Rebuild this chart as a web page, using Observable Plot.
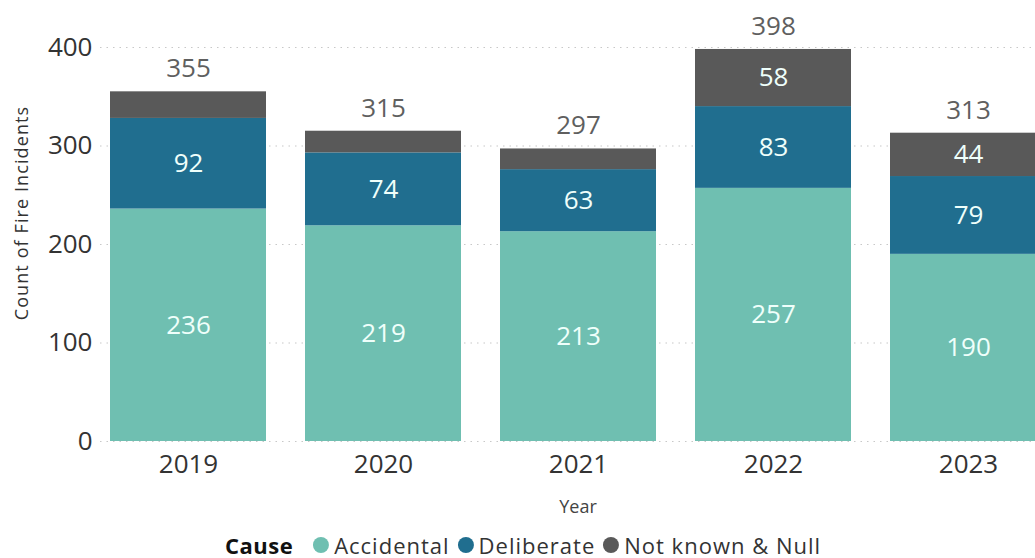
<!DOCTYPE html>
<html>
<head>
<meta charset="utf-8">
<script src="https://cdn.jsdelivr.net/npm/d3@7"></script>
<script src="https://cdn.jsdelivr.net/npm/@observablehq/plot@0.6"></script>
<style>
  html, body { margin: 0; padding: 0; background: #fff; overflow: hidden; }
  body { font-family: "Segoe UI", "Open Sans", "Noto Sans", sans-serif; }
  #wrap { position: relative; width: 1035px; height: 558px; }
  #ylab { position: absolute; left: 21px; top: 213px; transform: translate(-50%, -50%) rotate(-90deg);
          font-size: 18px; letter-spacing: 1.1px; color: #333; white-space: nowrap; }
  #xlab { position: absolute; left: 578px; top: 506px; transform: translate(-50%, -50%);
          font-size: 18px; color: #444; }
  #legend { position: absolute; left: 523px; top: 545px; transform: translate(-50%, -50%);
            font-size: 22px; line-height: 22px; letter-spacing: 1px; color: #333; white-space: nowrap;
            display: flex; align-items: center; }
  #legend b { margin-right: 12px; color: #111; letter-spacing: 0.5px; }
  #legend .dot { display: inline-block; width: 16px; height: 16px; border-radius: 50%; margin: 0 5px 0 8px; }
</style>
</head>
<body>
<div id="wrap">
  <div id="chart"></div>
  <div id="ylab">Count of Fire Incidents</div>
  <div id="xlab">Year</div>
  <div id="legend"></div>
</div>
<script>
const years = ["2019", "2020", "2021", "2022", "2023"];
const causes = ["Accidental", "Deliberate", "Not known & Null"];
const accidental = [236, 219, 213, 257, 190];
const deliberate = [92, 74, 63, 83, 79];
const notKnown = [27, 22, 21, 58, 44];
const totals = [355, 315, 297, 398, 313];
const colors = ["#6fbfb1", "#206e8f", "#595959"];
const yTicks = [0, 100, 200, 300, 400];

const series = [accidental, deliberate, notKnown];
const data = [];
causes.forEach((c, i) => years.forEach((y, j) => data.push({year: y, cause: c, value: series[i][j]})));
const totalData = years.map((y, j) => ({year: y, total: totals[j]}));

const chart = Plot.plot({
  width: 1035,
  height: 490,
  marginTop: 47,
  marginBottom: 49,
  marginLeft: 100,
  marginRight: 0,
  style: {fontFamily: '"Segoe UI", "Open Sans", "Noto Sans", sans-serif', background: "transparent"},
  x: {domain: years, range: [71, 1085], padding: 0.2, label: null},
  y: {domain: [0, 400], range: [441, 47], label: null},
  color: {domain: causes, range: colors},
  marks: [
    Plot.gridY(yTicks, {stroke: "#c8c8c8", strokeOpacity: 1, strokeDasharray: "1.5,5", strokeWidth: 1.2}),
    Plot.barY(data, {x: "year", y: "value", fill: "cause"}),
    Plot.text(data, Plot.stackY({x: "year", y: "value", z: "cause",
      text: d => d.value >= 30 ? String(d.value) : "",
      fill: "#effffb", fontSize: 26})),
    Plot.text(totalData, {x: "year", y: "total", text: d => String(d.total), dy: -23, fill: "#5f5f5f", fontSize: 26}),
    Plot.axisY(yTicks, {tickSize: 0, tickPadding: 8, fontSize: 26, color: "#333", label: null}),
    Plot.axisX({tickSize: 0, tickPadding: 13, fontSize: 26, color: "#333", label: null})
  ]
});
document.getElementById("chart").appendChild(chart);

const legend = document.getElementById("legend");
legend.innerHTML = "<b>Cause</b>" + causes.map((c, i) =>
  `<span class="dot" style="background:${colors[i]}"></span><span>${c}</span>`).join("");
</script>
</body>
</html>
